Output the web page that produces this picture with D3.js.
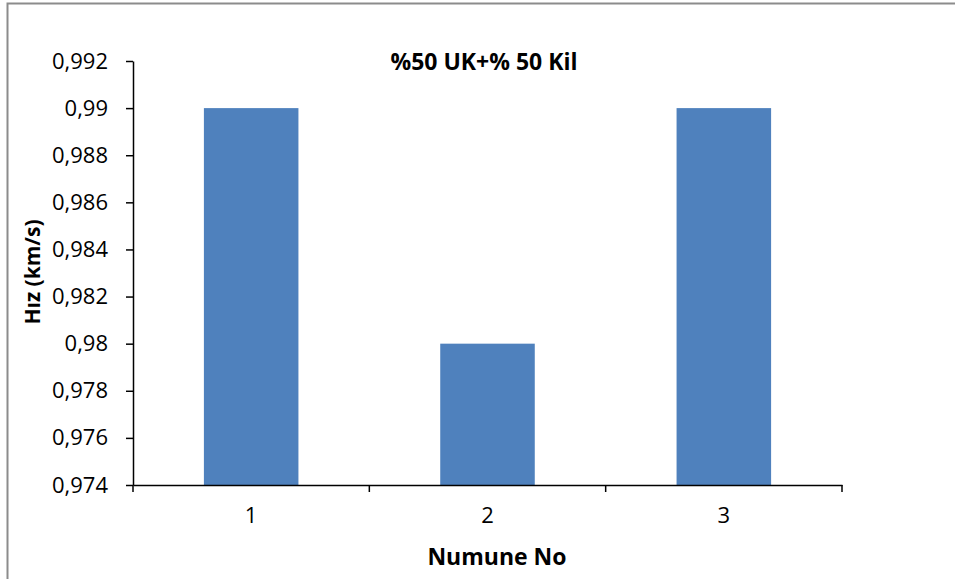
<!DOCTYPE html>
<html>
<head>
<meta charset="utf-8">
<script src="https://cdn.jsdelivr.net/npm/d3@7"></script>
<style>
  body { margin: 0; background: #fff; }
  svg text { font-family: "Open Sans", "Noto Sans", sans-serif; fill: #000; }
</style>
</head>
<body>
<svg width="955" height="579"></svg>
<script>
// data
var samples = ["1", "2", "3"];
var hzValues = [0.99, 0.98, 0.99];
var yTicks = [0.974, 0.976, 0.978, 0.98, 0.982, 0.984, 0.986, 0.988, 0.99, 0.992];

var svg = d3.select("svg"),
    width = +svg.attr("width"),
    height = +svg.attr("height");

// chart frame
svg.append("path")
  .attr("d", "M7.5,579 V3.5 H955")
  .attr("fill", "none")
  .attr("stroke", "#8c8c8c")
  .attr("stroke-width", 2);

var plotLeft = 133, plotRight = 842, plotTop = 61, plotBottom = 485;

var x = d3.scaleBand()
  .domain(samples)
  .range([plotLeft, plotRight])
  .paddingInner(0.6)
  .paddingOuter(0.3);

var y = d3.scaleLinear()
  .domain([0.974, 0.992])
  .range([plotBottom, plotTop]);

var fmt = function(v) { return d3.format(".3~f")(v).replace(".", ","); };

// bars
svg.selectAll(".bar")
  .data(hzValues)
  .enter().append("rect")
    .attr("class", "bar")
    .attr("x", function(d, i) { return x(samples[i]); })
    .attr("width", x.bandwidth())
    .attr("y", function(d) { return y(d); })
    .attr("height", function(d) { return plotBottom - y(d); })
    .attr("fill", "#4f81bd");

// y axis
var yAxis = svg.append("g")
  .attr("transform", "translate(" + plotLeft + ",0)")
  .call(d3.axisLeft(y).tickValues(yTicks).tickFormat(fmt).tickSize(7).tickSizeOuter(0));
yAxis.select(".domain").attr("stroke", "#000").attr("stroke-width", 1.5);
yAxis.selectAll(".tick line").attr("stroke", "#000").attr("stroke-width", 1.5);
yAxis.selectAll("text").attr("x", -25).style("font-size", "22px");

// x axis
var xAxis = svg.append("g")
  .attr("transform", "translate(0," + plotBottom + ")")
  .call(d3.axisBottom(x).tickSize(0).tickSizeOuter(0));
xAxis.select(".domain").attr("stroke", "#000").attr("stroke-width", 1.5);
xAxis.selectAll("text").attr("y", 22).style("font-size", "22px");

// category boundaries
var step = (plotRight - plotLeft) / samples.length;
xAxis.selectAll(".sep")
  .data(d3.range(samples.length + 1))
  .enter().append("line")
    .attr("x1", function(i) { return plotLeft + i * step; })
    .attr("x2", function(i) { return plotLeft + i * step; })
    .attr("y1", 0).attr("y2", 7)
    .attr("stroke", "#000").attr("stroke-width", 1.5);

// titles
svg.append("text")
  .attr("x", 484).attr("y", 70)
  .attr("text-anchor", "middle")
  .style("font-size", "23px").style("font-weight", "bold")
  .text("%50 UK+% 50 Kil");

svg.append("text")
  .attr("transform", "translate(40,272) rotate(-90)")
  .attr("text-anchor", "middle")
  .style("font-size", "21px").style("font-weight", "bold")
  .text("Hız (km/s)");

svg.append("text")
  .attr("x", 497).attr("y", 565)
  .attr("text-anchor", "middle")
  .style("font-size", "23px").style("font-weight", "bold")
  .text("Numune No");
</script>
</body>
</html>
